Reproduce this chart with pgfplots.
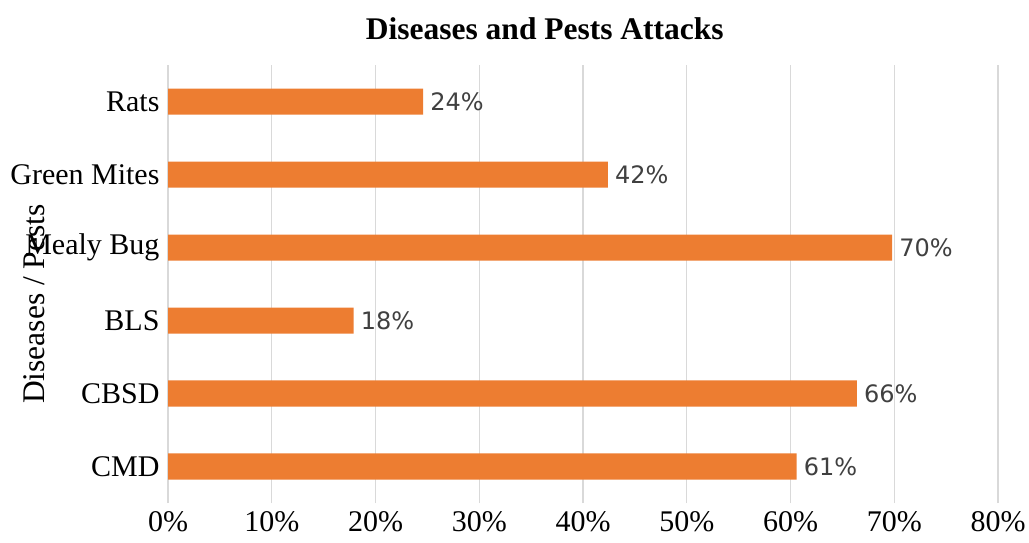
\documentclass[border=0pt]{standalone}
\usepackage{pgfplots}
\pgfplotsset{compat=1.18}
\usepackage{pgfplotstable}
\usepackage{fontspec}
\setmainfont{Liberation Serif}
\newfontfamily\labfont{DejaVu Sans}
\definecolor{barorange}{HTML}{ED7D31}
\definecolor{gridgray}{HTML}{D9D9D9}
\definecolor{labgray}{HTML}{404040}
\pgfplotstableread{
x y lab
60.6 0 61
66.4 1 66
17.9 2 18
69.8 3 70
42.4 4 42
24.6 5 24
}\datatable
\begin{document}
\begin{tikzpicture}
\path[use as bounding box] (0,0) rectangle (1029bp,543bp);
\begin{axis}[
  at={(168bp,40bp)}, anchor=south west,
  scale only axis,
  width=830bp, height=438bp,
  xmin=0, xmax=80, ymin=-0.5, ymax=5.5,
  xbar, bar width=26bp,
  xtick={0,10,...,80},
  xticklabel={\pgfmathprintnumber{\tick}\%},
  ytick={0,1,2,3,4,5},
  yticklabels={CMD,CBSD,BLS,Mealy Bug,Green Mites,Rats},
  xmajorgrids, major grid style={gridgray, line width=1.3bp},
  axis line style={draw=none},
  major tick length=0pt,
  tick label style={font=\fontsize{30bp}{36bp}\selectfont, /pgf/number format/assume math mode=true},
  xticklabel style={yshift=-5bp},
  yticklabel style={xshift=-5bp},
  ylabel={Diseases / Pests},
  every axis y label/.style={at={(axis description cs:-0.1614,0.454)}, rotate=90, anchor=center, font=\fontsize{31.5bp}{36bp}\selectfont},
  title={\textbf{Diseases and Pests Attacks}},
  every axis title/.style={at={(axis description cs:0.454,1.082)}, anchor=center, font=\fontsize{31.5bp}{36bp}\selectfont},
  nodes near coords={\pgfplotspointmeta\%},
  point meta=explicit symbolic,
  every node near coord/.style={font=\labfont\fontsize{24bp}{28bp}\selectfont, text=labgray, anchor=west, inner sep=0pt, xshift=7bp},
]
\addplot[fill=barorange, draw=none] table[x=x, y=y, meta=lab] {\datatable};
\end{axis}
\end{tikzpicture}
\end{document}
